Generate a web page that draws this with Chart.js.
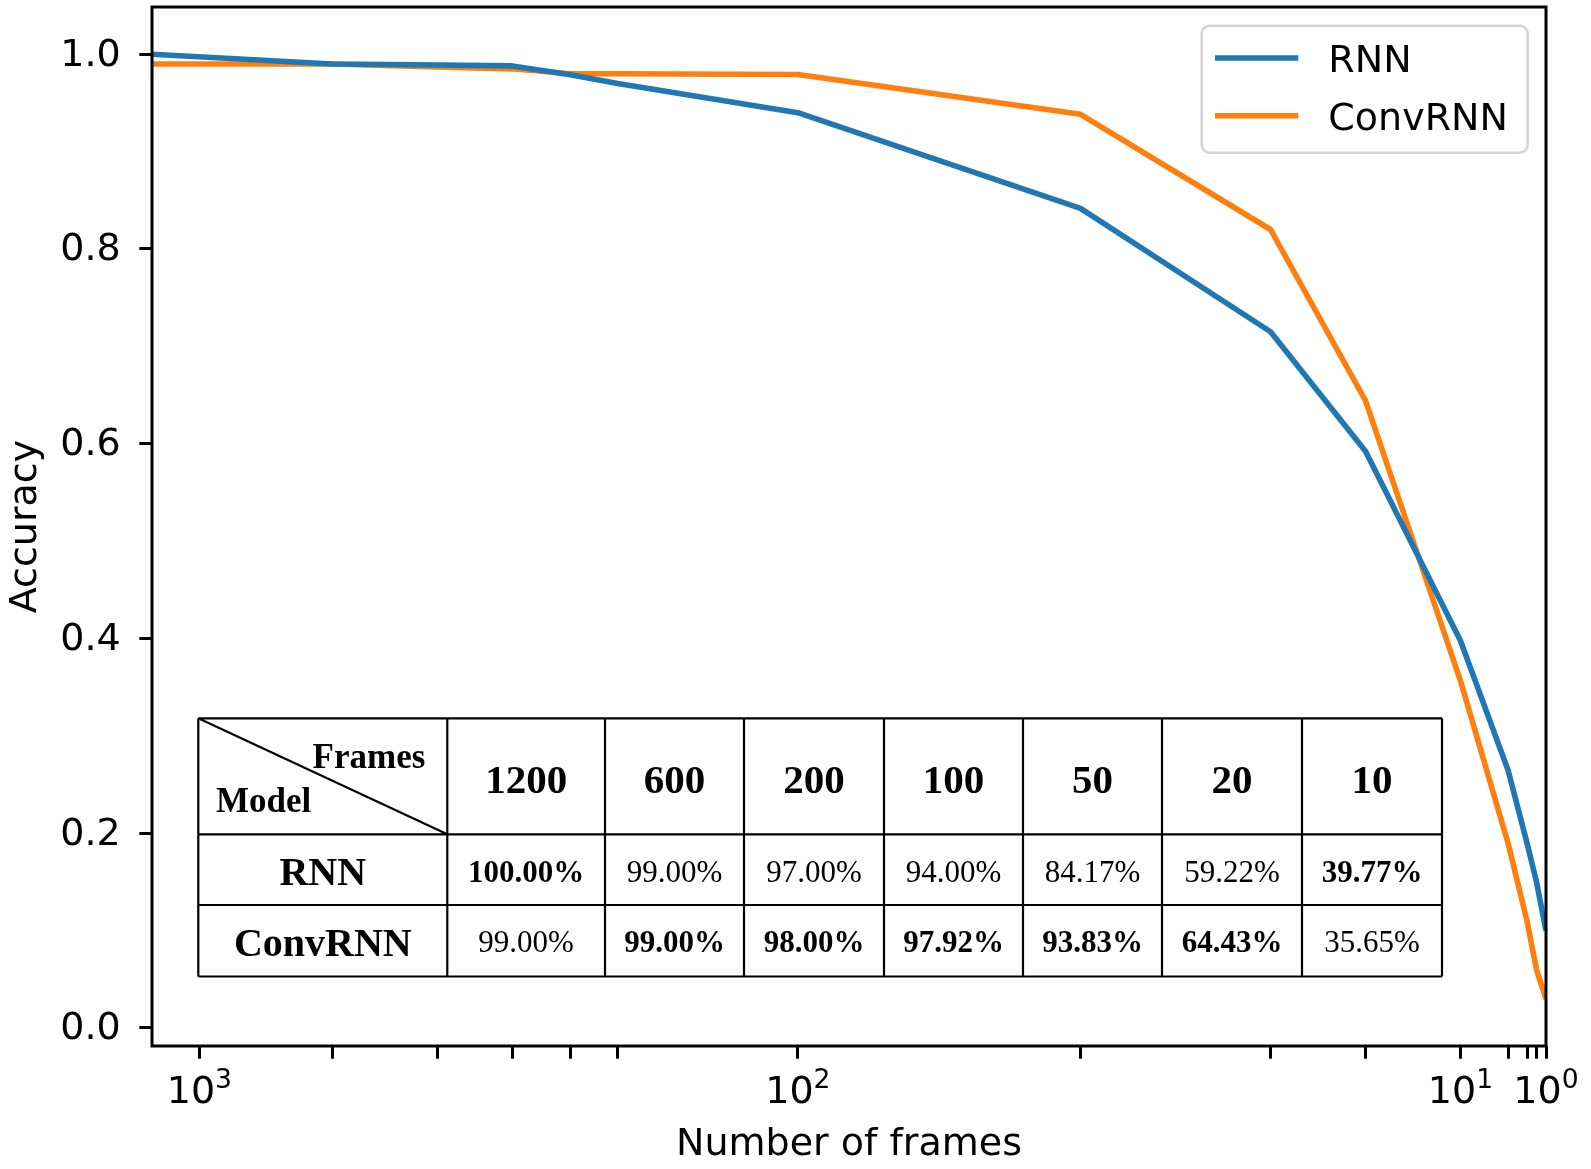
<!DOCTYPE html>
<html>
<head>
<meta charset="utf-8">
<title>Accuracy vs number of frames</title>
<script src="https://cdn.jsdelivr.net/npm/chart.js@4.4.1/dist/chart.umd.min.js"></script>
<style>
  html, body { margin: 0; padding: 0; background: #fff; }
  canvas { display: block; }
</style>
</head>
<body>
<canvas id="acc-chart" width="1591" height="1169"></canvas>
<script>
// frames used per clip, left to right on the reversed axis
const frames = [1200, 600, 400, 300, 240, 200, 100, 50, 30, 20, 10, 5, 3, 2, 1];
const rnnAcc = [1.0, 0.99, 0.989, 0.988, 0.979, 0.97, 0.94, 0.8417, 0.715, 0.5922, 0.3977, 0.265, 0.19, 0.15, 0.10];
const convAcc = [0.99, 0.99, 0.987, 0.985, 0.98, 0.98, 0.9792, 0.9383, 0.82, 0.6443, 0.3565, 0.19, 0.11, 0.06, 0.03];
const tableFrames = [1200, 600, 200, 100, 50, 20, 10];
const majorTicks = [1000, 100, 10, 1];
const yTicks = [0, 0.2, 0.4, 0.6, 0.8, 1.0];

const sansFont = {family: "'DejaVu Sans', sans-serif", size: 38};
const sans = "'DejaVu Sans', sans-serif";
const serif = "'Liberation Serif', 'Times New Roman', serif";

// symmetric log axis (log above linthresh, linear below), like matplotlib's symlog
class SymlogScale extends Chart.Scale {
    static id = 'symlog';
    static defaults = {linthresh: 70, linscale: 1};

    _fwd(v) {
        const c = this.options.linscale / (1 - 1 / 10);
        const t = this.options.linthresh;
        const a = Math.abs(v);
        return Math.sign(v) * (a <= t ? a * c : t * (c + Math.log10(a / t)));
    }
    _inv(u) {
        const c = this.options.linscale / (1 - 1 / 10);
        const t = this.options.linthresh;
        const a = Math.abs(u);
        return Math.sign(u) * (a <= t * c ? a / c : t * Math.pow(10, a / t - c));
    }
    determineDataLimits() {
        this.min = this.options.min;
        this.max = this.options.max;
    }
    buildTicks() {
        const vals = [...new Set([...majorTicks, ...frames])]
            .filter(v => v >= this.min && v < this.max)
            .sort((a, b) => b - a);
        return vals.map(v => ({value: v, major: majorTicks.includes(v)}));
    }
    configure() {
        super.configure();
        this._u0 = this._fwd(this.min);
        this._du = this._fwd(this.max) - this._u0;
    }
    getPixelForValue(v) {
        return this.getPixelForDecimal((this._fwd(v) - this._u0) / this._du);
    }
    getValueForPixel(p) {
        return this._inv(this._u0 + this.getDecimalForPixel(p) * this._du);
    }
    getLabelForValue(v) {
        return String(v);
    }
}
Chart.register(SymlogScale);

const spines = {
    id: 'spines',
    afterDatasetsDraw(chart) {
        const {ctx, chartArea: a} = chart;
        ctx.save();
        ctx.strokeStyle = '#000';
        ctx.lineWidth = 3;
        ctx.strokeRect(a.left, a.top, a.right - a.left, a.bottom - a.top);
        ctx.restore();
    }
};

// "10^n" labels under the major x ticks, mathtext style
const powerLabels = {
    id: 'powerLabels',
    afterDraw(chart) {
        const {ctx, chartArea: a} = chart;
        const xs = chart.scales.x;
        const base = a.bottom + 57.3;
        ctx.save();
        ctx.fillStyle = '#000';
        ctx.textBaseline = 'alphabetic';
        ctx.textAlign = 'left';
        majorTicks.forEach(v => {
            const exp = String(Math.round(Math.log10(v)));
            ctx.font = '38px ' + sans;
            const w1 = ctx.measureText('10').width;
            ctx.font = '26.6px ' + sans;
            const w2 = ctx.measureText(exp).width;
            const x0 = xs.getPixelForValue(v) - (w1 + w2) / 2;
            ctx.font = '38px ' + sans;
            ctx.fillText('10', x0, base);
            ctx.font = '26.6px ' + sans;
            ctx.fillText(exp, x0 + w1, base - 15.6);
        });
        ctx.restore();
    }
};

const legendBox = {
    id: 'legendBox',
    afterDraw(chart) {
        const {ctx, chartArea: a} = chart;
        const right = a.right - 18.3, top = a.top + 18.7;
        const left = right - 326;
        ctx.save();
        ctx.fillStyle = 'rgba(255,255,255,0.8)';
        ctx.strokeStyle = '#d4d4d4';
        ctx.lineWidth = 2.6;
        ctx.beginPath();
        ctx.roundRect(left, top, 326, 127, 8);
        ctx.fill();
        ctx.stroke();
        chart.data.datasets.forEach((ds, i) => {
            const y = top + 32.3 + i * 57.7;
            ctx.strokeStyle = ds.borderColor;
            ctx.lineWidth = 5.6;
            ctx.beginPath();
            ctx.moveTo(left + 13.3, y);
            ctx.lineTo(left + 96.6, y);
            ctx.stroke();
            ctx.fillStyle = '#000';
            ctx.font = '38px ' + sans;
            ctx.textBaseline = 'alphabetic';
            ctx.textAlign = 'left';
            ctx.fillText(ds.label, left + 126.6, y + 14.2);
        });
        ctx.restore();
    }
};

const tableBox = {
    id: 'tableBox',
    afterDraw(chart) {
        const ctx = chart.ctx;
        const colX = [198.3, 447.3, 605, 744, 884, 1023, 1162, 1302, 1442];
        const rowY = [718.3, 834.3, 905, 976.5];
        const fmt = v => (v * 100).toFixed(2) + '%';
        ctx.save();
        ctx.fillStyle = '#fff';
        ctx.fillRect(colX[0], rowY[0], colX[8] - colX[0], rowY[3] - rowY[0]);
        ctx.strokeStyle = '#000';
        ctx.lineWidth = 2.2;
        ctx.beginPath();
        colX.forEach(x => { ctx.moveTo(x, rowY[0]); ctx.lineTo(x, rowY[3]); });
        rowY.forEach(y => { ctx.moveTo(colX[0], y); ctx.lineTo(colX[8], y); });
        ctx.moveTo(colX[0], rowY[0]);
        ctx.lineTo(colX[1], rowY[1]);
        ctx.stroke();

        ctx.fillStyle = '#000';
        ctx.textBaseline = 'alphabetic';
        ctx.font = 'bold 35px ' + serif;
        ctx.textAlign = 'right';
        ctx.fillText('Frames', colX[1] - 22, 768.3);
        ctx.textAlign = 'left';
        ctx.fillText('Model', colX[0] + 17.7, 811.7);

        ctx.textAlign = 'center';
        ctx.font = 'bold 40px ' + serif;
        const mid0 = (colX[0] + colX[1]) / 2;
        ctx.fillText(chart.data.datasets[0].label, mid0, 885);
        ctx.fillText(chart.data.datasets[1].label, mid0, 955.5);

        tableFrames.forEach((f, j) => {
            const cx = (colX[j + 1] + colX[j + 2]) / 2;
            const k = frames.indexOf(f);
            const r = rnnAcc[k], c = convAcc[k];
            ctx.font = 'bold 41px ' + serif;
            ctx.fillText(String(f), cx, 792.7);
            ctx.font = (r > c ? 'bold ' : '') + '31px ' + serif;
            ctx.fillText(fmt(r), cx, 881.7);
            ctx.font = (r > c ? '' : 'bold ') + '31px ' + serif;
            ctx.fillText(fmt(c), cx, 951.7);
        });
        ctx.restore();
    }
};

const toPoints = vals => frames.map((f, i) => ({x: f, y: vals[i]}));

new Chart(document.getElementById('acc-chart'), {
    type: 'line',
    data: {
        datasets: [{
            label: 'RNN',
            data: toPoints(rnnAcc),
            borderColor: '#1f77b4',
            borderWidth: 5.6,
            pointRadius: 0,
            tension: 0,
            borderJoinStyle: 'round',
            fill: false
        }, {
            label: 'ConvRNN',
            data: toPoints(convAcc),
            borderColor: '#ff7f0e',
            borderWidth: 5.6,
            pointRadius: 0,
            tension: 0,
            borderJoinStyle: 'round',
            fill: false
        }]
    },
    options: {
        responsive: false,
        devicePixelRatio: 1,
        animation: false,
        layout: {padding: {top: 7, right: 45, left: 0, bottom: 0}},
        plugins: {
            legend: {display: false},
            tooltip: {enabled: false}
        },
        scales: {
            x: {
                type: 'symlog',
                min: 1,
                max: 1200,
                reverse: true,
                linthresh: 70,
                linscale: 1,
                ticks: {
                    autoSkip: false,
                    maxRotation: 0,
                    callback: () => ''
                },
                grid: {drawOnChartArea: false, tickLength: 12.7, tickWidth: 3, color: '#000'},
                border: {display: false},
                title: {
                    display: true,
                    text: 'Number of frames',
                    color: '#000',
                    font: sansFont,
                    padding: {top: 0, bottom: 1}
                },
                afterFit: s => {
                    s.height = 123;
                    s.paddingLeft = 0;
                    s.paddingRight = 0;
                }
            },
            y: {
                min: -0.0185,
                max: 1.0485,
                afterBuildTicks: s => { s.ticks = yTicks.map(v => ({value: v})); },
                ticks: {
                    padding: 18.5,
                    labelOffset: 1.5,
                    color: '#000',
                    font: sansFont,
                    callback: v => v.toFixed(1)
                },
                grid: {drawOnChartArea: false, tickLength: 12.7, tickWidth: 3, color: '#000'},
                border: {display: false},
                title: {
                    display: true,
                    text: 'Accuracy',
                    color: '#000',
                    font: sansFont,
                    padding: {top: 3, bottom: 0}
                },
                afterFit: s => {
                    s.width = 152;
                    s.paddingTop = 0;
                    s.paddingBottom = 0;
                }
            }
        }
    },
    plugins: [spines, powerLabels, legendBox, tableBox]
});
</script>
</body>
</html>
